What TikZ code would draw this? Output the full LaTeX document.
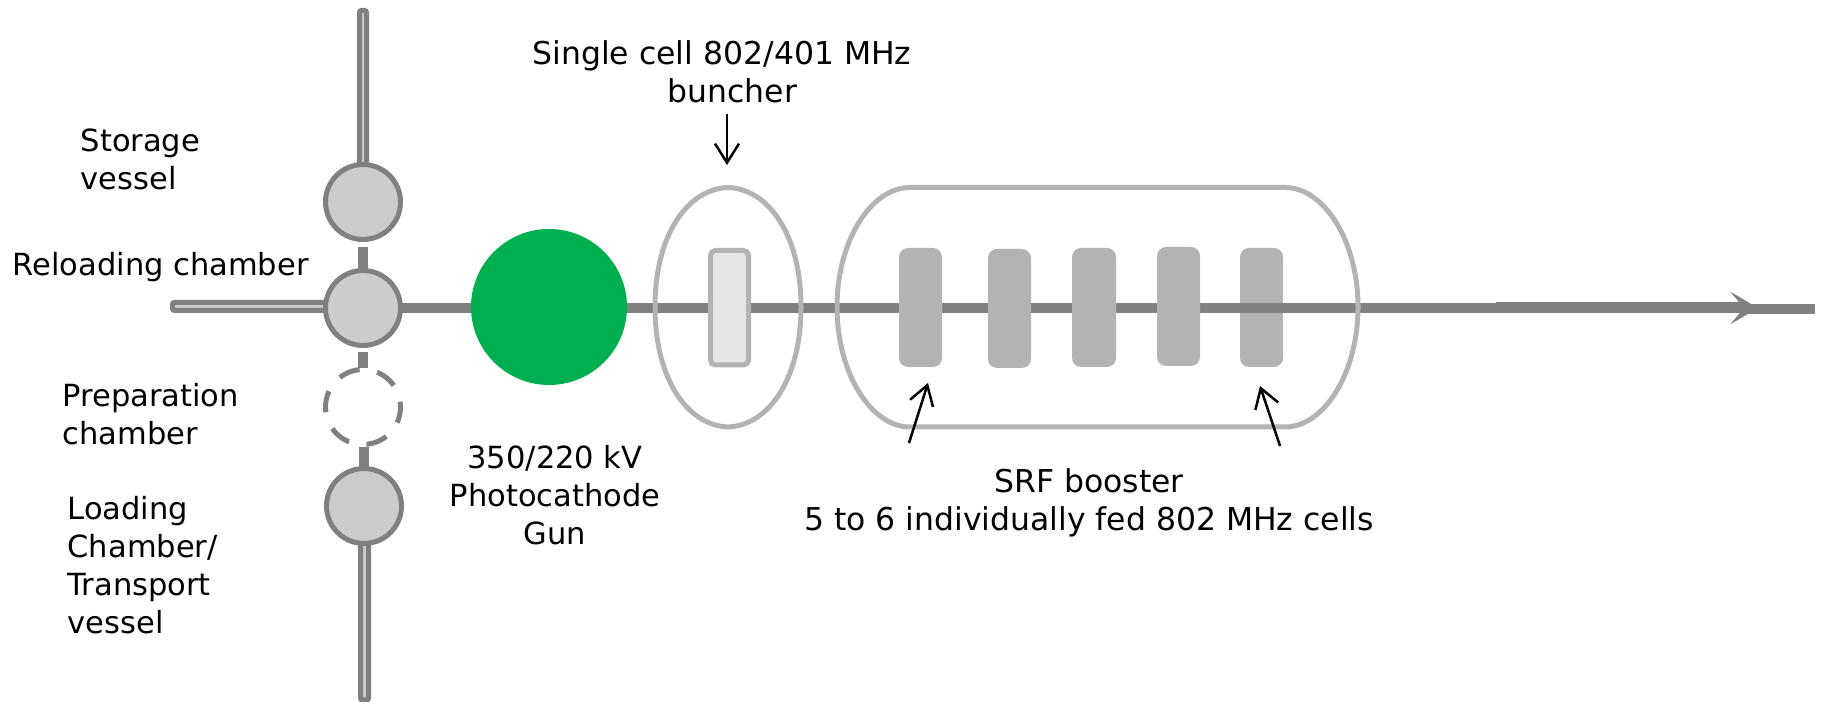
\documentclass[tikz,border=0pt]{standalone}
\usepackage{fontspec}
\setmainfont{DejaVu Sans}
\usetikzlibrary{arrows.meta}
\definecolor{pipegray}{HTML}{808080}
\definecolor{chambergray}{HTML}{CCCCCC}
\definecolor{cavitygray}{HTML}{B3B3B3}
\definecolor{bunchergray}{HTML}{E6E6E6}
\definecolor{gungreen}{HTML}{00B050}
\tikzset{
	label/.style={font=\fontsize{8.68}{10.8}\selectfont, inner sep=0pt},
	widelabel/.style={font=\fontsize{8.95}{10.8}\selectfont, inner sep=0pt},
	pipe/.style={draw=pipegray, fill=chambergray, line width=0.5mm, rounded corners=0.2mm},
	beam/.style={draw=pipegray, line width=1mm},
	chamber/.style={draw=pipegray, fill=chambergray, line width=0.5mm},
	shell/.style={draw=cavitygray, line width=0.5mm},
	cavity/.style={fill=cavitygray, rounded corners=0.9mm},
	pointer/.style={black, line width=0.25mm, -{Straight Barb[length=1.9mm,width=2.4mm]}}
}

\begin{document}
\begin{tikzpicture}
	\useasboundingbox (0, 0) rectangle (18.24, 7.02);
	
	%%%%% BEAM LINE %%%%%
	
	\draw[beam] (3.45, 3.94) -- (17.5, 3.94);
	\draw[beam] (17.4, 3.933) -- (18.15, 3.933);
	\draw[beam, line width=1.1mm] (14.96, 3.94) -- (17.45, 3.94);
	\fill[pipegray] (17.58, 3.94) -- (17.30, 4.105) -- (17.44, 3.94) -- (17.30, 3.775) -- cycle;
	
	%%%%% VESSELS AND CHAMBERS %%%%%
	
	\draw[pipe] (3.595, 6.915) rectangle (3.665, 5.3);
	\draw[pipe] (1.725, 3.995) rectangle (3.3, 3.915);
	\draw[pipe] (3.605, 1.6) rectangle (3.685, 0.02);
	
	\draw[beam] (3.63, 4.55) -- (3.63, 4.3);
	\draw[beam] (3.63, 3.5) -- (3.63, 3.34);
	\draw[beam] (3.64, 2.55) -- (3.64, 2.3);
	
	\draw[chamber] (3.63, 5.0) circle (0.375);
	\draw[chamber] (3.63, 3.94) circle (0.375);
	\draw[draw=pipegray, line width=0.5mm, dash pattern=on 2.16mm off 1.77mm, dash phase=1.64mm] (3.63, 2.95) circle (0.375);
	\draw[chamber] (3.64, 1.96) circle (0.375);
	
	\draw[fill=gungreen, draw=none] (5.49, 3.95) circle (0.78);
	
	%%%%% BUNCHER %%%%%
	
	\draw[shell] (6.55, 3.95) .. controls (6.55, 4.68) and (6.88, 5.13) .. (7.28, 5.145)
		.. controls (7.68, 5.13) and (8.01, 4.68) .. (8.01, 3.95)
		.. controls (8.01, 3.22) and (7.68, 2.765) .. (7.28, 2.75)
		.. controls (6.88, 2.765) and (6.55, 3.22) .. (6.55, 3.95) -- cycle;
	\draw[draw=cavitygray, fill=bunchergray, line width=0.5mm, rounded corners=0.5mm] (7.105, 4.515) rectangle (7.485, 3.37);
	
	%%%%% BOOSTER %%%%%
	
	\fill[cavity] (12.4, 4.54) rectangle (12.83, 3.35);
	\draw[beam] (12.2, 3.94) -- (13.0, 3.94);
	\draw[shell] (9.10, 5.145) -- (12.85, 5.145)
		.. controls (13.24, 5.145) and (13.58, 4.61) .. (13.58, 3.95)
		.. controls (13.58, 3.29) and (13.24, 2.75) .. (12.85, 2.75)
		-- (9.10, 2.75)
		.. controls (8.71, 2.75) and (8.37, 3.29) .. (8.37, 3.95)
		.. controls (8.37, 4.61) and (8.71, 5.145) .. (9.10, 5.145) -- cycle;
	\fill[cavity] (8.99, 4.54) rectangle (9.42, 3.35);
	\fill[cavity] (9.88, 4.53) rectangle (10.31, 3.34);
	\fill[cavity] (10.72, 4.54) rectangle (11.16, 3.35);
	\fill[cavity] (11.57, 4.55) rectangle (12.00, 3.36);
	
	%%%%% LABELS %%%%%
	
	\node[label, align=left, anchor=west] (storage) at (0.80, 5.425) {Storage\\vessel};
	\node[label, anchor=west] (reloading) at (0.12, 4.35) {Reloading chamber};
	\node[label, align=left, anchor=west] (preparation) at (0.62, 2.875) {Preparation\\chamber};
	\node[label, align=left, anchor=west] (loading) at (0.67, 1.37) {Loading\\Chamber/\\Transport\\vessel};
	\node[label, align=center] (gun) at (5.55, 2.07) {350/220 kV\\Photocathode\\Gun};
	\node[widelabel, align=center] (buncher) at (7.22, 6.30) {Single cell 802/401 MHz\\\hspace*{0.21cm}buncher};
	\node[widelabel, align=center] (booster) at (10.89, 1.99) {SRF booster\\5 to 6 individually fed 802 MHz cells};
	
	\coordinate (buncherfrom) at (7.27, 5.88);
	\coordinate (bunchertip) at (7.27, 5.37);
	\coordinate (firstfrom) at (9.09, 2.59);
	\coordinate (firsttip) at (9.28, 3.19);
	\coordinate (lastfrom) at (12.80, 2.56);
	\coordinate (lasttip) at (12.60, 3.16);
	
	\draw[pointer] (buncherfrom) -- (bunchertip);
	\draw[pointer] (firstfrom) -- (firsttip);
	\draw[pointer] (lastfrom) -- (lasttip);
\end{tikzpicture}
\end{document}
